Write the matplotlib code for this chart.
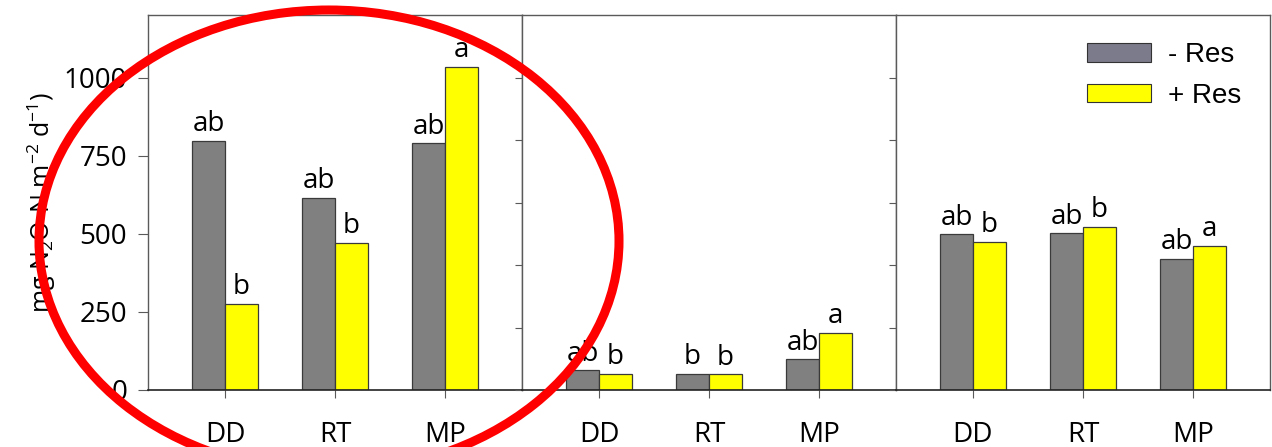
import numpy as np
import matplotlib
matplotlib.use("Agg")
import matplotlib.pyplot as plt
from matplotlib.patches import Ellipse, Patch

# data
categories = ["DD", "RT", "MP"]
minus_res = [
    [797, 614, 789],
    [63, 52, 98],
    [498, 501, 419],
]
plus_res = [
    [276, 472, 1033],
    [51, 50, 183],
    [474, 523, 461],
]
minus_letters = [
    ["ab", "ab", "ab"],
    ["ab", "b", "ab"],
    ["ab", "ab", "ab"],
]
plus_letters = [
    ["b", "b", "a"],
    ["b", "b", "a"],
    ["b", "b", "a"],
]
yticks_first = [0, 250, 500, 750, 1000]
yticks_other = [0, 200, 400, 600, 800, 1000]

plt.rcParams["font.family"] = ["Open Sans", "DejaVu Sans"]
plt.rcParams["mathtext.fontset"] = "custom"
plt.rcParams["mathtext.rm"] = "Open Sans"
plt.rcParams["mathtext.it"] = "Open Sans"
plt.rcParams["mathtext.default"] = "regular"

W, H = 1272, 447
fig = plt.figure(figsize=(W / 100, H / 100), dpi=100)

left_px, right_px, top_px, bottom_px = 148, 1270, 15, 390
panel_w = (right_px - left_px) / 3
gray = "#808080"
yellow = "#ffff00"
spine_c = "#5a5a5a"

x = np.arange(len(categories))
bw = 0.3
axes = []
for i in range(3):
    ax = fig.add_axes([(left_px + i * panel_w) / W, 1 - bottom_px / H,
                       panel_w / W, (bottom_px - top_px) / H])
    axes.append(ax)
    b1 = ax.bar(x - bw / 2, minus_res[i], bw, color=gray, edgecolor="#3a3a3a", linewidth=0.9)
    b2 = ax.bar(x + bw / 2, plus_res[i], bw, color=yellow, edgecolor="#3a3a3a", linewidth=0.9)
    for rect, lab in zip(b1, minus_letters[i]):
        ax.annotate(lab, (rect.get_x() + rect.get_width() / 2, rect.get_height()),
                    xytext=(0, 2), textcoords="offset points", ha="center", va="bottom", fontsize=20)
    for rect, lab in zip(b2, plus_letters[i]):
        ax.annotate(lab, (rect.get_x() + rect.get_width() / 2, rect.get_height()),
                    xytext=(0, 2), textcoords="offset points", ha="center", va="bottom", fontsize=20)
    ax.set_xlim(-0.7, 2.7)
    ax.set_ylim(0, 1200)
    ax.set_xticks(x)
    ax.set_xticklabels(categories, fontsize=20)
    ax.tick_params(axis="x", direction="out", length=6, pad=16, color=spine_c)
    if i == 0:
        ax.set_yticks(yticks_first)
        ax.tick_params(axis="y", direction="out", length=7, pad=8, labelsize=20, color=spine_c)
    else:
        ax.set_yticks(yticks_other)
        ax.set_yticklabels([])
        ax.tick_params(axis="y", direction="out", length=5, color=spine_c)
    for s in ["top", "left", "right"]:
        ax.spines[s].set_color(spine_c)
        ax.spines[s].set_linewidth(1.0)
    ax.spines["bottom"].set_color("#222222")
    ax.spines["bottom"].set_linewidth(1.2)

axes[0].set_ylabel("mg N$_2$O-N m$^{-2}$ d$^{-1}$)", fontsize=18, labelpad=4)

handles = [Patch(facecolor="#7c7b8b", edgecolor="#333333", linewidth=0.8),
           Patch(facecolor=yellow, edgecolor="#333333", linewidth=0.8)]
axes[2].legend(handles, ["- Res", "+ Res"], loc="upper right", frameon=False,
               prop={"family": "Liberation Sans", "size": 20},
               handlelength=2.3, handleheight=0.65, handletextpad=0.6,
               labelspacing=0.52, borderaxespad=0.45, bbox_to_anchor=(0.985, 0.99))

# red highlight ring
ring = Ellipse((329 / W, 1 - 241 / H), 2 * 290 / W, 2 * 231 / H,
               transform=fig.transFigure, fill=False, edgecolor="#ff0000",
               linewidth=6.5, zorder=10, clip_on=False)
fig.add_artist(ring)

fig.savefig("out.png", dpi=100)
